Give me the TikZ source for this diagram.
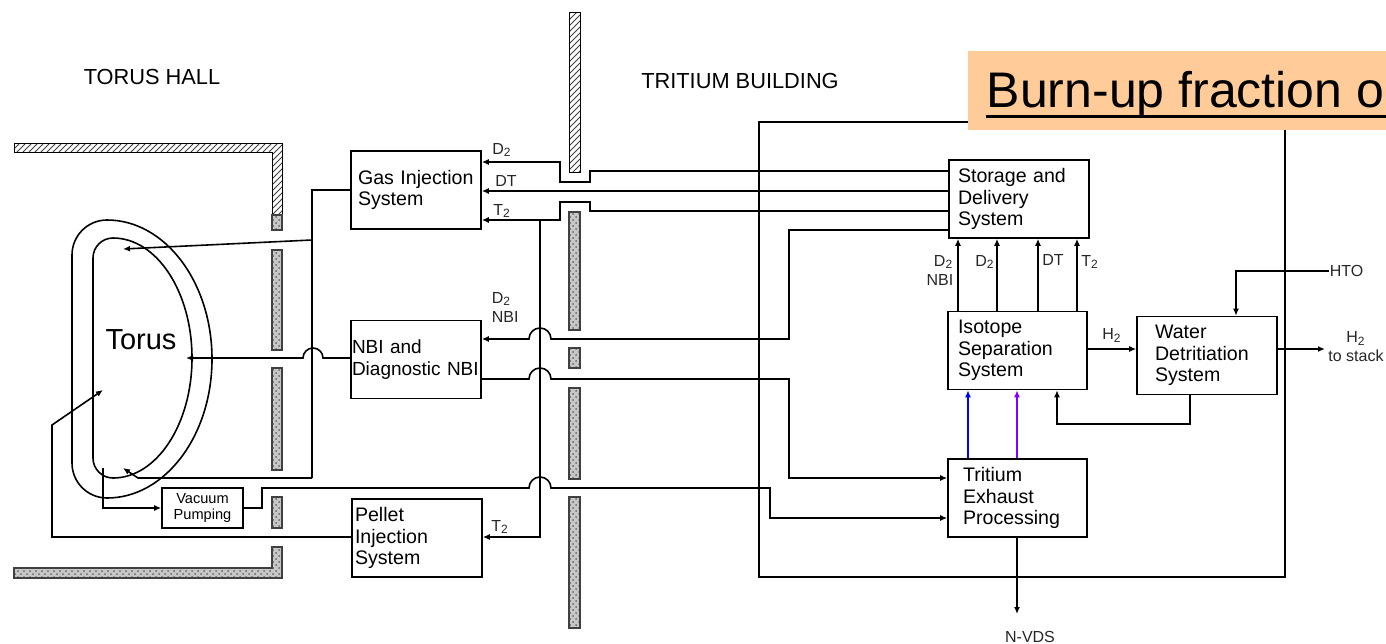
\documentclass[tikz,border=0pt]{standalone}
\usepackage{fontspec}
\setmainfont{Liberation Sans}
\usepackage{tikz}
\usetikzlibrary{positioning,arrows.meta,patterns}
\definecolor{peach}{RGB}{255,204,153}
\definecolor{tviolet}{RGB}{130,0,255}
\tikzset{
  sys/.style={draw, line width=.8pt, align=left, inner ysep=1pt, minimum height=39pt, font=\fontsize{9.8}{10.8}\selectfont},
  wall/.style={draw, line width=.5pt, pattern=north east lines, pattern color=black!75},
  dwall/.style={draw=black!75, line width=.6pt, preaction={fill=black!22}, pattern=crosshatch dots, pattern color=black!60},
  arr/.style={-{Latex[length=3.5pt, width=3pt]}},
  lbl/.style={font=\fontsize{8}{9.5}\selectfont, inner sep=0pt, align=left, text=black!85},
  hall/.style={font=\fontsize{10.9}{12}\selectfont},
}

\begin{document}
\begin{tikzpicture}[x=0.5pt, y=-0.5pt, line width=.8pt]
\useasboundingbox (0,0) rectangle (1386,643);
\clip (0,0) rectangle (1386,643);
% walls
\draw[wall] (14,143) -- (282,143) -- (282,215) -- (272,215) -- (272,152) -- (14,152) -- cycle;
\draw[dwall] (272,215) rectangle (282,230);
\foreach \a/\b in {250/350,368/470,497/528} \draw[dwall] (272,\a) rectangle (282,\b);
\draw[dwall] (272,547) -- (282,547) -- (282,578) -- (14,578) -- (14,568) -- (272,568) -- cycle;
\draw[wall] (569,12) rectangle (580,172);
\foreach \a/\b in {212/330,348/368,388/479,497/628} \draw[dwall] (569,\a) rectangle (580,\b);
\node[hall] (hall) at (152,77) {TORUS HALL};
\node[hall] (bldg) at (740,81) {TRITIUM BUILDING};
% torus
\draw (72,360) -- (72,255) arc[start angle=180, end angle=270, radius=35]
  arc[start angle=270, end angle=450, x radius=105, y radius=139]
  arc[start angle=90, end angle=180, radius=35] -- cycle;
\draw (93,360) -- (93,258) arc[start angle=180, end angle=270, radius=20]
  arc[start angle=270, end angle=450, x radius=79, y radius=120]
  arc[start angle=90, end angle=180, radius=20] -- cycle;
\node[font=\fontsize{14.5}{16}\selectfont] (torus) at (141,340) {Torus};
\coordinate (ptop) at (123,249);
\coordinate (pbot) at (123,468);
\coordinate (pnbi) at (186,358);
\coordinate (ppump) at (103,468);
\coordinate (ppel) at (103,390);
% systems
\node[sys, text width=58pt, inner xsep=3.5pt] (gis) at (416,190) {\mbox{Gas Injection}\\System};
\node[sys, text width=64pt, inner xsep=.5pt, font=\fontsize{9.5}{10.8}\selectfont] (nbi) at (416,359.5) {NBI and\\\mbox{Diagnostic NBI}};
\node[sys, text width=62pt, inner xsep=1.5pt] (pis) at (417,538) {Pellet\\Injection\\System};
\node[draw, line width=.8pt, minimum width=40.5pt, minimum height=20pt, inner sep=0pt, align=center, font=\fontsize{7.3}{7.6}\selectfont] (vac) at (202.5,508) {Vacuum\\Pumping};
\node[sys, text width=61pt, inner xsep=4.5pt] (sds) at (1019,199) {\mbox{Storage and}\\Delivery\\System};
\node[sys, text width=59.5pt, inner xsep=5pt] (iss) at (1017.5,350.5) {Isotope\\Separation\\System};
\node[sys, text width=52pt, inner xsep=9pt] (wds) at (1207,355.5) {Water\\Detritiation\\System};
\node[sys, text width=54.5pt, inner xsep=7.5pt] (tep) at (1017.5,498) {Tritium\\Exhaust\\Processing};
% torus hall side
\draw (gis.west) -- (312,190) -- (312,478);
\draw[arr] (312,240) -- (ptop);
\draw[arr] (312,478) -- (138,478) -- (pbot);
\draw[arr] (nbi.west |- 0,358) -- (323,358) arc[start angle=0, end angle=-180, radius=10] -- (pnbi);
\draw[arr] (ppump) -- (103,508) -- (vac.west);
\draw[arr] (pis.west |- 0,537) -- (52,537) -- (52,425) -- (ppel);
% fuelling lines
\draw[arr] (sds.west |- 0,171) -- (590,171) -- (590,182) -- (560,182) -- (560,162) -- (gis.east |- 0,162);
\draw[arr] (sds.west |- 0,191) -- (gis.east |- 0,191);
\draw[arr] (sds.west |- 0,211) -- (590,211) -- (590,202) -- (560,202) -- (560,220) -- (gis.east |- 0,220);
\draw[arr] (540,220) -- (540,537) -- (pis.east |- 0,537);
\draw[arr] (sds.west |- 0,230) -- (789,230) -- (789,339) -- (551,339) arc[start angle=0, end angle=-180, radius=11] -- (nbi.east |- 0,339);
\draw[arr] (nbi.east |- 0,379) -- (529,379) arc[start angle=180, end angle=360, radius=11] -- (789,379) -- (789,478) -- (tep.west |- 0,478);
\draw[arr] (vac.east) -- (262,508) -- (262,488) -- (529,488) arc[start angle=180, end angle=360, radius=11] -- (770,488) -- (770,518) -- (tep.west |- 0,518);
\node[lbl] (ld2) at (502,150) {D\textsubscript{2}};
\node[lbl] (ldt) at (506,181) {DT};
\node[lbl] (lt2) at (502,211) {T\textsubscript{2}};
\node[lbl, anchor=west] (ld2n) at (491,307) {D\textsubscript{2}\\NBI};
\node[lbl] (lt2p) at (500,527) {T\textsubscript{2}};
% tritium plant
\draw (759,122) rectangle (1285,577);
\foreach \x in {958,997,1038,1077} \draw[arr] (iss.north -| \x,0) -- (sds.south -| \x,0);
\node[lbl, anchor=east, align=right] (rd2n) at (954,270) {D\textsubscript{2}\\NBI};
\node[lbl] (rd2) at (985,262) {D\textsubscript{2}};
\node[lbl] (rdt) at (1053,260) {DT};
\node[lbl] (rt2) at (1090,262) {T\textsubscript{2}};
\draw[arr] (iss.east |- 0,349) -- node[lbl, above=3pt] (lh2) {H\textsubscript{2}} (wds.west |- 0,349);
\node[lbl, anchor=west] (hto) at (1329,271) {HTO};
\draw[arr] (hto.west) -- (1236,271) -- (wds.north -| 1236,0);
\node[lbl, align=center] (stk) at (1356,347) {H\textsubscript{2}\\to stack};
\coordinate (stack) at (1325,349);
\draw[arr] (wds.east |- 0,349) -- (stack);
\draw[arr] (wds.south -| 1190,0) -- (1190,424) -- (1057,424) -- (iss.south -| 1057,0);
\draw[arr, blue] (tep.north -| 968,0) -- (iss.south -| 968,0);
\draw[arr, tviolet] (tep.north -| 1017,0) -- (iss.south -| 1017,0);
\node[lbl] (nvds) at (1030,637) {N-VDS};
\coordinate (vds) at (1017,614);
\draw[arr] (tep.south -| 1017,0) -- (vds);
% title
\node[fill=peach, anchor=north west, minimum height=39.5pt, inner xsep=9.5pt, text height=20pt, text depth=2.5pt, font=\fontsize{25}{28}\selectfont] (burn) at (967,50) {Burn-up fraction o};
\draw[line width=1.6pt] ([xshift=9.5pt, yshift=7pt]burn.south west) -- ([yshift=7pt]burn.south east);
\end{tikzpicture}
\end{document}
